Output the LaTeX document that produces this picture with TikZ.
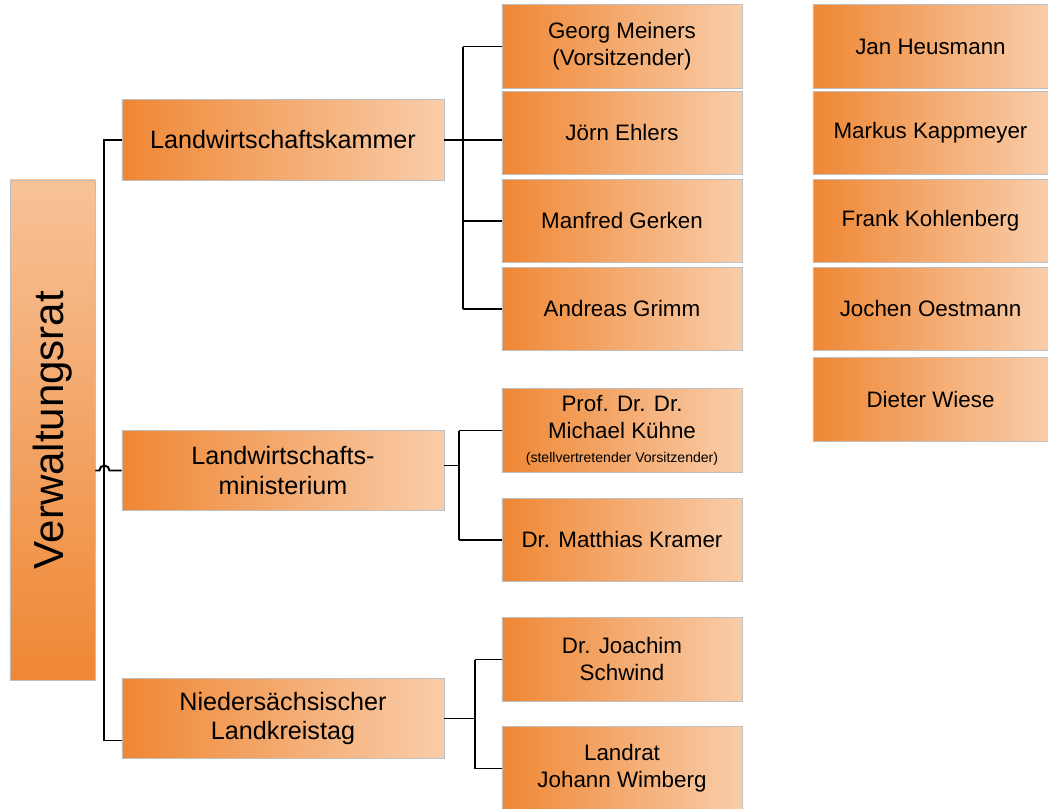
\documentclass[tikz,border=0pt]{standalone}
\usepackage{fontspec}
\setmainfont{Liberation Sans}

\definecolor{orgdark}{RGB}{239,135,52}
\definecolor{orglight}{RGB}{249,205,170}

\tikzset{
  box/.style={rectangle, draw=black!25, line width=0.6pt, left color=orgdark, right color=orglight, align=center, inner sep=2pt},
  vrbox/.style={rectangle, draw=black!25, line width=0.6pt, top color=orglight!85!orgdark, bottom color=orgdark, inner sep=0pt},
  headbox/.style={box, minimum width=8.05cm, minimum height=2.02cm, font=\fontsize{17.9}{21.2}\selectfont},
  namebox/.style={box, minimum width=6cm, minimum height=2.08cm, font=\fontsize{15.9}{19.2}\selectfont},
  sidebox/.style={namebox, minimum width=5.875cm},
  conn/.style={line width=1.4pt}
}

\begin{document}
\begin{tikzpicture}[x=0.025cm,y=-0.025cm]
\useasboundingbox (0,0) rectangle (1048,809);

% Verwaltungsrat
\node[vrbox, minimum width=2.125cm, minimum height=12.5cm, font=\fontsize{29.9}{34}\selectfont] (vr) at (52.5,430) {\rotatebox{90}{Verwaltungsrat}};

% Gremien
\node[headbox] (lwk) at (283,140) {Landwirtschaftskammer};
\node[headbox] (lwm) at (283,470.5) {Landwirtschafts-\\ministerium};
\node[headbox] (nlt) at (283,718.5) {Niedersächsischer\\Landkreistag};

% Mitglieder
\node[namebox] (meiners) at (622,46.5) {Georg Meiners\\(Vorsitzender)};
\node[namebox] (ehlers) at (622,133) {Jörn Ehlers};
\node[namebox] (gerken) at (622,221) {Manfred Gerken};
\node[namebox] (grimm) at (622,309) {Andreas Grimm};
\node[namebox] (kuehne) at (622,430.5) {Prof. Dr. Dr.\\Michael Kühne\\[-2pt]{\fontsize{10}{12}\selectfont(stellvertretender Vorsitzender)}};
\node[namebox] (kramer) at (622,540) {Dr. Matthias Kramer};
\node[namebox] (schwind) at (622,659.5) {Dr. Joachim\\Schwind};
\node[namebox] (wimberg) at (622,768.5) {Landrat\\Johann Wimberg};

\node[sidebox] (heusmann) at (930.5,46.5) {Jan Heusmann};
\node[sidebox] (kappmeyer) at (930.5,133) {Markus Kappmeyer};
\node[sidebox] (kohlenberg) at (930.5,221) {Frank Kohlenberg};
\node[sidebox] (oestmann) at (930.5,309) {Jochen Oestmann};
\node[sidebox] (wiese) at (930.5,399.5) {Dieter Wiese};

% Verbindungen
\draw[conn] (lwk.west) -- ++(-18,0) |- ([yshift=-0.55cm]nlt.west);
\draw[conn] (vr.east |- lwm.west) -- ++(4,0) arc[start angle=180, end angle=360, radius=5] -- (lwm.west);

\draw[conn] (lwk.east) -- ++(19,0) coordinate (lwkb);
\draw[conn] (lwkb |- meiners.west) -- (lwkb |- grimm.west);
\draw[conn] (lwkb |- meiners.west) -- (meiners.west);
\draw[conn] (lwkb) -- (lwkb -| ehlers.west);
\draw[conn] (lwkb |- gerken.west) -- (gerken.west);
\draw[conn] (lwkb |- grimm.west) -- (grimm.west);

\draw[conn] ([yshift=0.125cm]lwm.east) -- ++(15,0) coordinate (lwmb);
\draw[conn] (lwmb |- kuehne.west) -- (lwmb |- kramer.west);
\draw[conn] (lwmb |- kuehne.west) -- (kuehne.west);
\draw[conn] (lwmb |- kramer.west) -- (kramer.west);

\draw[conn] (nlt.east) -- ++(31,0) coordinate (nltb);
\draw[conn] (nltb |- schwind.west) -- (nltb |- wimberg.west);
\draw[conn] (nltb |- schwind.west) -- (schwind.west);
\draw[conn] (nltb |- wimberg.west) -- (wimberg.west);
\end{tikzpicture}
\end{document}
